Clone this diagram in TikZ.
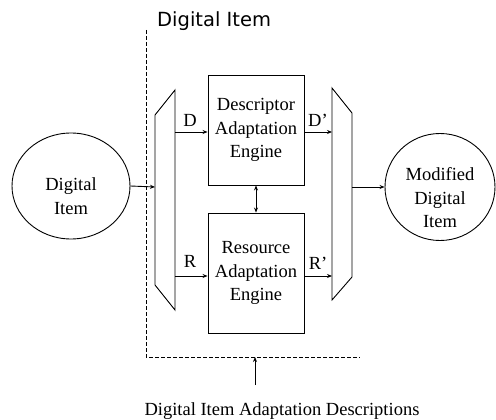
\documentclass[tikz,border=0pt]{standalone}
\usepackage{fontspec}
\setmainfont{Liberation Serif}
\newfontfamily\titlefont{DejaVu Sans}
\usetikzlibrary{shapes.geometric,arrows.meta}
\tikzset{
  line/.style={line width=0.9pt},
  arr/.style={line width=0.9pt,-{Stealth[length=5pt,width=4pt]}},
  dblarr/.style={line width=0.9pt,{Stealth[length=5pt,width=4pt]}-{Stealth[length=5pt,width=4pt]}},
  enginebox/.style={draw,line width=0.9pt,align=center,inner sep=0pt,
    font=\fontsize{18.5}{23.5}\selectfont},
  itemellipse/.style={draw,ellipse,line width=0.9pt,inner sep=0pt},
  lbl/.style={font=\fontsize{18.5}{23.5}\selectfont,inner sep=0pt},
  frame/.style={line width=0.9pt,dash pattern=on 4pt off 2pt},
}
\begin{document}
\begin{tikzpicture}[x=1pt,y=-1pt]
\useasboundingbox (0,0) rectangle (496,420);
% title
\node[anchor=base west,inner sep=0pt,font=\titlefont\fontsize{19.5}{22}\selectfont] (title) at (157,27) {Digital Item};
% dashed frame
\coordinate (ftop) at (146,30);
\coordinate (fcorner) at (146,357);
\coordinate (fend) at (360,357);
\draw[frame] (ftop) -- (fcorner) -- (fend);
% ellipses
\node[itemellipse,minimum width=118pt,minimum height=106pt,
  label={[lbl,align=center,yshift=-10pt]center:Digital\\Item}] (din) at (71,186) {};
\node[itemellipse,minimum width=110pt,minimum height=107pt,
  label={[lbl,align=center,yshift=-11pt]center:Modified\\Digital\\Item}] (dout) at (440,187) {};
% muxes
\coordinate (m1a) at (155,115);
\coordinate (m1b) at (175,90);
\coordinate (m1c) at (175,310);
\coordinate (m1d) at (155,285);
\draw[line] (m1a) -- (m1b) -- (m1c) -- (m1d) -- cycle;
\coordinate (m2a) at (332,88);
\coordinate (m2b) at (352,113);
\coordinate (m2c) at (352,277);
\coordinate (m2d) at (332,300);
\draw[line] (m2a) -- (m2b) -- (m2c) -- (m2d) -- cycle;
% engines
\node[enginebox,minimum width=96pt,minimum height=110pt] (dae) at (256,130) {Descriptor\\Adaptation\\Engine};
\node[enginebox,minimum width=96pt,minimum height=120pt] (rae) at (256,273) {Resource\\Adaptation\\Engine};
% connection points
\coordinate (inL) at (155,187);
\coordinate (dL) at (175,132);
\coordinate (rL) at (175,276);
\coordinate (dR) at (332,132);
\coordinate (rR) at (332,276);
\coordinate (outR) at (352,187);
\draw[arr] (din.east) -- (inL);
\draw[arr] (dL) -- (dL -| dae.west);
\draw[arr] (rL) -- (rL -| rae.west);
\draw[arr] (dR -| dae.east) -- (dR);
\draw[arr] (rR -| rae.east) -- (rR);
\draw[arr] (outR) -- (dout.west);
\draw[dblarr] (dae.south) -- (rae.north);
% labels
\node[lbl] (lD) at (190,120) {D};
\node[lbl] (lR) at (190,261) {R};
\node[lbl] (lD2) at (318,120) {D'};
\node[lbl] (lR2) at (318,263) {R'};
% bottom
\node[lbl,anchor=base] (dia) at (282,415) {Digital Item Adaptation Descriptions};
\coordinate (frameB) at (255,357);
\draw[arr] (255,385) -- (frameB);
\end{tikzpicture}
\end{document}
